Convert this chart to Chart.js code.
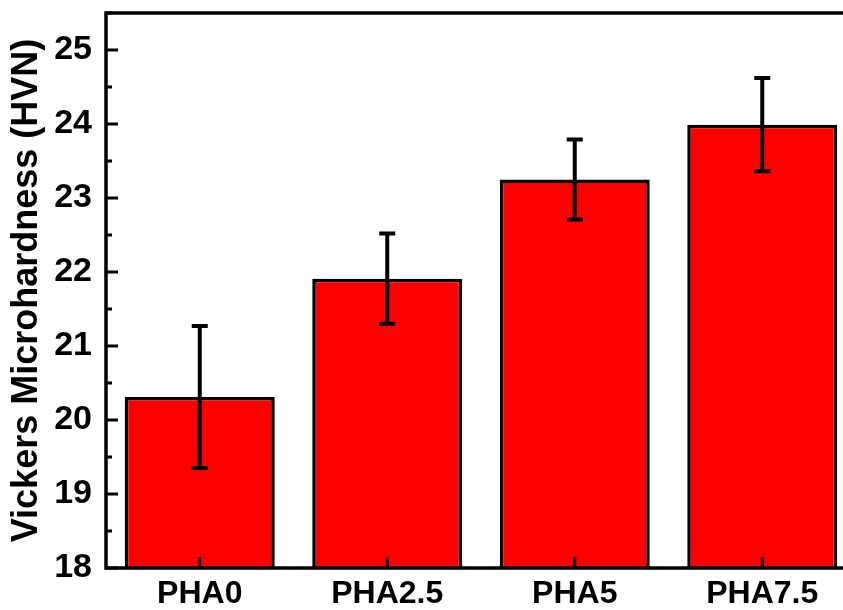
<!DOCTYPE html>
<html>
<head>
<meta charset="utf-8">
<script src="https://cdn.jsdelivr.net/npm/chart.js@4.4.1/dist/chart.umd.min.js"></script>
<style>
  html, body { margin: 0; padding: 0; background: #fff; overflow: hidden; }
  #wrap { width: 870px; height: 610px; }
</style>
</head>
<body>
<div id="wrap"><canvas id="chart" width="870" height="610"></canvas></div>
<script>
const samples = ["PHA0", "PHA2.5", "PHA5", "PHA7.5"];
const hardness = [20.31, 21.91, 23.25, 23.99];
const hardnessErr = [0.96, 0.61, 0.54, 0.63];
const yTicks = [18, 19, 20, 21, 22, 23, 24, 25];
const yMinorTicks = [18.5, 19.5, 20.5, 21.5, 22.5, 23.5, 24.5, 25.5];

const FONT = "'Liberation Sans', Arial, sans-serif";

// frame, inward ticks and error bars
const decorations = {
  id: "decorations",
  afterDatasetsDraw(chart) {
    const { ctx, chartArea: a, scales } = chart;
    const y = scales.y, x = scales.x;
    const meta = chart.getDatasetMeta(0);
    ctx.save();
    ctx.strokeStyle = "#000";
    ctx.lineCap = "butt";

    // error bars
    ctx.lineWidth = 4;
    meta.data.forEach((bar, i) => {
      const top = y.getPixelForValue(hardness[i] + hardnessErr[i]);
      const bot = y.getPixelForValue(hardness[i] - hardnessErr[i]);
      ctx.beginPath();
      ctx.moveTo(bar.x, top);
      ctx.lineTo(bar.x, bot);
      ctx.moveTo(bar.x - 8, top);
      ctx.lineTo(bar.x + 8, top);
      ctx.moveTo(bar.x - 8, bot);
      ctx.lineTo(bar.x + 8, bot);
      ctx.stroke();
    });

    // y ticks
    ctx.lineWidth = 3;
    ctx.beginPath();
    yTicks.forEach(v => {
      const p = y.getPixelForValue(v);
      ctx.moveTo(a.left, p);
      ctx.lineTo(a.left + 12, p);
    });
    yMinorTicks.forEach(v => {
      const p = y.getPixelForValue(v);
      ctx.moveTo(a.left, p);
      ctx.lineTo(a.left + 6, p);
    });
    // x ticks
    samples.forEach((s, i) => {
      const p = x.getPixelForValue(i);
      ctx.moveTo(p, a.bottom);
      ctx.lineTo(p, a.bottom - 11);
    });
    ctx.stroke();

    // frame
    ctx.lineWidth = 3.5;
    ctx.strokeRect(a.left, a.top, a.right - a.left, a.bottom - a.top);
    ctx.restore();
  }
};

new Chart(document.getElementById("chart"), {
  type: "bar",
  data: {
    labels: samples,
    datasets: [{
      data: hardness,
      backgroundColor: "#ff0000",
      borderColor: "#000",
      borderWidth: 3.5,
      borderSkipped: false,
      barPercentage: 0.8,
      categoryPercentage: 1.0
    }]
  },
  options: {
    responsive: false,
    animation: false,
    layout: { padding: { top: 13, right: 14, left: 0, bottom: 0 } },
    plugins: { legend: { display: false }, tooltip: { enabled: false } },
    scales: {
      x: {
        grid: { display: false, drawTicks: false },
        border: { display: false },
        ticks: {
          color: "#000",
          padding: 7,
          font: { family: FONT, size: 32, weight: "bold" }
        },
        afterFit(scale) {
          scale.height = 42;
          scale.paddingLeft = 0;
          scale.paddingRight = 0;
        }
      },
      y: {
        min: 18,
        max: 25.5,
        grid: { display: false, drawTicks: false },
        border: { display: false },
        afterBuildTicks(scale) { scale.ticks = yTicks.map(v => ({ value: v })); },
        ticks: {
          color: "#000",
          padding: 14,
          font: { family: FONT, size: 34, weight: "bold" }
        },
        title: {
          display: true,
          text: "Vickers Microhardness (HVN)",
          color: "#000",
          padding: { top: 5, bottom: 0 },
          font: { family: FONT, size: 36, weight: "bold" }
        },
        afterFit(scale) {
          scale.width = 106;
          scale.paddingTop = 0;
          scale.paddingBottom = 0;
        }
      }
    }
  },
  plugins: [decorations]
});
</script>
</body>
</html>
